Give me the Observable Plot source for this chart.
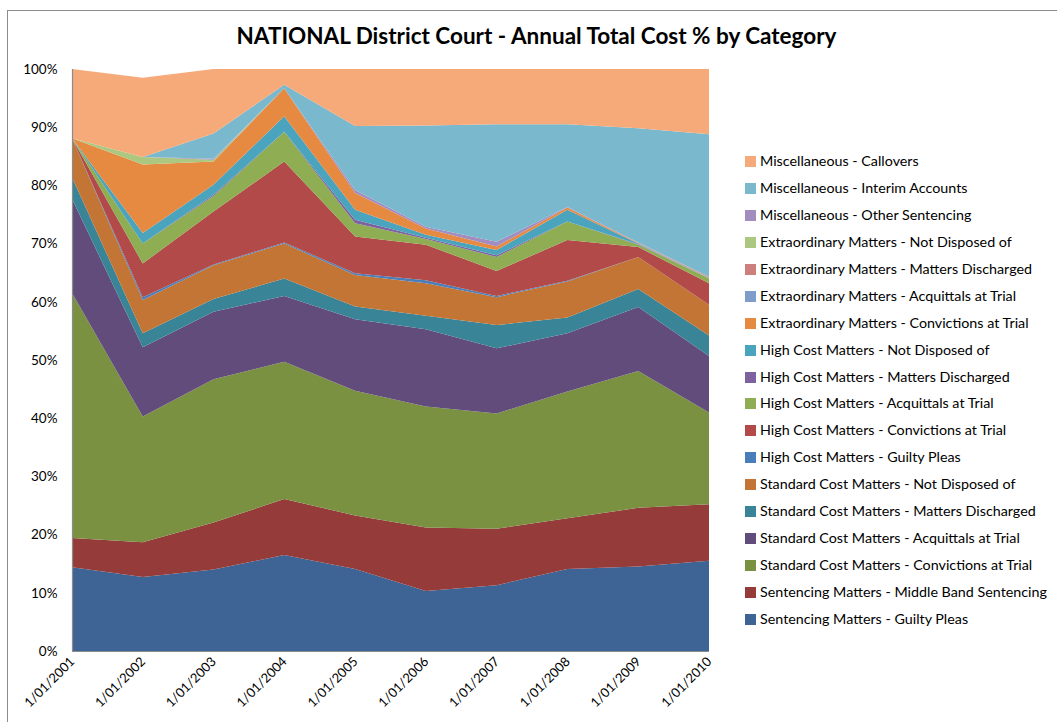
<!DOCTYPE html>
<html>
<head>
<meta charset="utf-8">
<script src="https://cdn.jsdelivr.net/npm/d3@7"></script>
<script src="https://cdn.jsdelivr.net/npm/@observablehq/plot@0.6"></script>
<style>
  html, body { margin:0; padding:0; background:#fff; }
  #wrap { position:relative; width:1057px; height:722px; overflow:hidden; font-family:Lato, "Open Sans", sans-serif; }
  #frame { position:absolute; left:7px; top:10px; width:1100px; height:800px; border:1px solid #8c8c8c; box-sizing:border-box; }
  #title { position:absolute; left:0; width:1073px; top:22px; text-align:center; font-weight:bold; font-size:22.5px; color:#000; }
  #legend { position:absolute; left:745px; top:0; }
  .li { position:absolute; left:0; white-space:nowrap; font-size:14.3px; color:#000; height:16px; line-height:16px; }
  .sw { position:absolute; left:0; top:3px; width:11px; height:11px; }
  .lt { position:absolute; left:15px; top:0; }
  #chart { position:absolute; left:0; top:0; }
</style>
</head>
<body>
<div id="wrap">
  <div id="frame"></div>
  <div id="chart"></div>
  <div id="title">NATIONAL District Court - Annual Total Cost % by Category</div>
  <div id="legend"></div>
</div>
<script>
// Years (x axis)
const years = [2001, 2002, 2003, 2004, 2005, 2006, 2007, 2008, 2009, 2010];

// Series names, bottom of the stack to top
const seriesNames = [
  "Sentencing Matters - Guilty Pleas",
  "Sentencing Matters - Middle Band Sentencing",
  "Standard Cost Matters - Convictions at Trial",
  "Standard Cost Matters - Acquittals at Trial",
  "Standard Cost Matters - Matters Discharged",
  "Standard Cost Matters - Not Disposed of",
  "High Cost Matters  - Guilty Pleas",
  "High Cost Matters  - Convictions at Trial",
  "High Cost Matters  - Acquittals at Trial",
  "High Cost Matters  - Matters Discharged",
  "High Cost Matters  - Not Disposed of",
  "Extraordinary Matters  - Convictions at Trial",
  "Extraordinary Matters  - Acquittals at Trial",
  "Extraordinary Matters  - Matters Discharged",
  "Extraordinary Matters  - Not Disposed of",
  "Miscellaneous - Other Sentencing",
  "Miscellaneous - Interim Accounts",
  "Miscellaneous - Callovers"
];

const seriesColors = [
  "#3d6495", "#953b3a", "#7a9142", "#624c7c", "#3a8497", "#c27534",
  "#4a7ebb", "#b14a48", "#8fad52", "#7e62a0", "#4aa4bd", "#e68a42",
  "#7f9ccb", "#cd7f7d", "#acc77f", "#a28dbe", "#7ab8cd", "#f6aa79"
];

// Percent of annual total cost, per series
const sentGuiltyPleas   = [14.4, 12.7, 14.0, 16.5, 14.1, 10.3, 11.3, 14.1, 14.5, 15.5];
const sentMiddleBand    = [ 5.0,  6.0,  8.1,  9.6,  9.2, 10.9,  9.7,  8.7, 10.1,  9.7];
const stdConvictions    = [42.1, 21.6, 24.6, 23.6, 21.4, 20.8, 19.8, 21.8, 23.5, 15.8];
const stdAcquittals     = [16.2, 11.9, 11.6, 11.3, 12.3, 13.3, 11.2, 10.0, 11.0,  9.7];
const stdDischarged     = [ 3.7,  2.4,  2.2,  3.0,  2.2,  2.3,  4.0,  2.7,  3.1,  3.5];
const stdNotDisposed    = [ 6.7,  5.7,  5.8,  6.0,  5.4,  5.6,  4.8,  6.2,  5.5,  5.3];
const hcGuiltyPleas     = [ 0.0,  0.5,  0.1,  0.2,  0.3,  0.5,  0.2,  0.1,  0.0,  0.0];
const hcConvictions     = [ 0.0,  5.8,  9.1, 13.9,  6.3,  6.1,  4.3,  7.0,  1.7,  3.7];
const hcAcquittals      = [ 0.0,  3.4,  2.7,  5.1,  2.3,  1.0,  2.4,  3.2,  0.4,  0.8];
const hcDischarged      = [ 0.0,  0.0,  0.2,  0.0,  0.6,  0.2,  0.3,  0.0,  0.1,  0.0];
const hcNotDisposed     = [ 0.0,  1.8,  1.7,  2.7,  1.7,  0.5,  0.9,  2.0,  0.1,  0.1];
const exConvictions     = [ 0.0, 11.8,  4.0,  4.8,  2.9,  1.1,  0.6,  0.4,  0.1,  0.1];
const exAcquittals      = [ 0.0,  0.0,  0.0,  0.0,  0.0,  0.0,  0.0,  0.0,  0.0,  0.0];
const exDischarged      = [ 0.0,  0.0,  0.0,  0.0,  0.0,  0.0,  0.0,  0.0,  0.0,  0.0];
const exNotDisposed     = [ 0.0,  1.3,  0.3,  0.0,  0.0,  0.0,  0.0,  0.0,  0.0,  0.0];
const miscOtherSent     = [ 0.0,  0.0,  0.2,  0.0,  0.5,  0.3,  0.8,  0.1,  0.1,  0.1];
const miscInterim       = [ 0.0,  0.0,  4.3,  0.6, 11.0, 17.4, 20.2, 14.2, 19.6, 24.5];
const miscCallovers     = [11.9, 13.6, 11.1,  2.7,  9.8,  9.7,  9.5,  9.5, 10.2, 11.2];

const yTicks = [0, 10, 20, 30, 40, 50, 60, 70, 80, 90, 100];

const seriesValues = [
  sentGuiltyPleas, sentMiddleBand, stdConvictions, stdAcquittals, stdDischarged, stdNotDisposed,
  hcGuiltyPleas, hcConvictions, hcAcquittals, hcDischarged, hcNotDisposed,
  exConvictions, exAcquittals, exDischarged, exNotDisposed,
  miscOtherSent, miscInterim, miscCallovers
];

const dates = years.map(y => new Date(Date.UTC(y, 0, 1)));
const rows = [];
seriesNames.forEach((s, i) => {
  years.forEach((y, j) => rows.push({series: s, date: dates[j], value: seriesValues[i][j]}));
});

const chart = Plot.plot({
  width: 1057,
  height: 722,
  marginLeft: 72,
  marginRight: 348,
  marginTop: 69,
  marginBottom: 71,
  style: {fontFamily: "Lato, 'Open Sans', sans-serif", fontSize: "13px", color: "#000", background: "transparent"},
  x: {type: "utc", domain: [dates[0], dates[dates.length - 1]], label: null},
  y: {domain: [0, 100], label: null},
  color: {domain: seriesNames, range: seriesColors},
  marks: [
    Plot.areaY(rows, {x: "date", y: "value", z: "series", fill: "series", order: seriesNames, curve: "linear"}),
    Plot.axisY({ticks: yTicks, tickFormat: d => d + "%", tickSize: 0, tickPadding: 15, label: null, fontSize: 13.5}),
    Plot.axisX({ticks: dates, tickFormat: d => "1/01/" + d.getUTCFullYear(), tickRotate: -45, tickSize: 0, tickPadding: 8, label: null, fontSize: 13}),
    Plot.ruleX([dates[0]], {stroke: "#8c8c8c", strokeWidth: 1.2}),
    Plot.ruleY([0], {stroke: "#8c8c8c", strokeWidth: 1.2})
  ]
});
document.getElementById("chart").appendChild(chart);

// HTML legend: top to bottom = top of stack to bottom
const legend = document.getElementById("legend");
const legendOrder = seriesNames.map((s, i) => i).reverse();
legendOrder.forEach((idx, k) => {
  const row = document.createElement("div");
  row.className = "li";
  row.style.top = (153 + k * 26.94) + "px";
  const sw = document.createElement("div");
  sw.className = "sw";
  sw.style.background = seriesColors[idx];
  const t = document.createElement("div");
  t.className = "lt";
  t.textContent = seriesNames[idx];
  row.appendChild(sw); row.appendChild(t);
  legend.appendChild(row);
});
</script>
</body>
</html>
